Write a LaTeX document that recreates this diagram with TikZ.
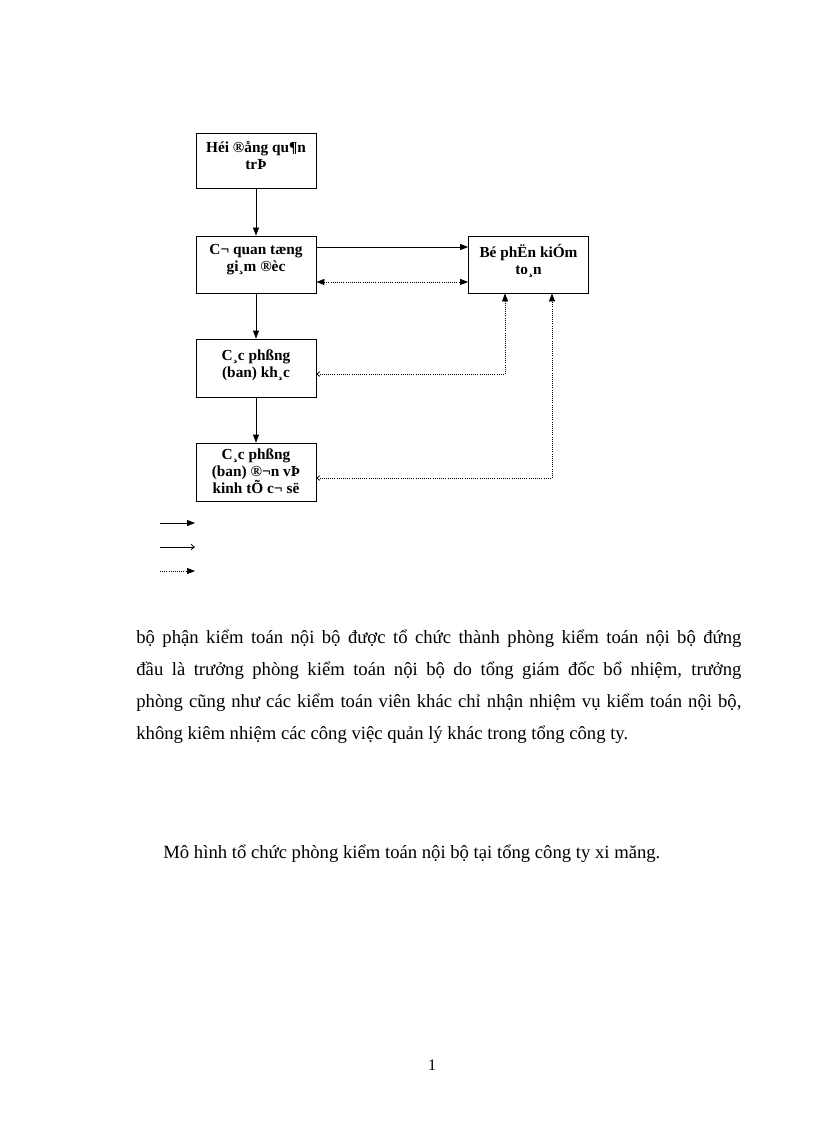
\documentclass[tikz,border=0pt]{standalone}
\usepackage{fontspec}
\setmainfont{Liberation Serif}
\usetikzlibrary{arrows.meta,positioning}
\newcommand\boxfont{\fontsize{11.5}{12.7}\selectfont\bfseries}

\begin{document}
\begin{tikzpicture}[x=0.75pt,y=-0.75pt,>={Triangle[length=6pt,width=4.5pt]},
                    sbarb/.tip={Straight Barb[length=2pt,width=3.5pt]},
                    line width=0.6pt]
  \tikzstyle{box}=[draw=black,minimum width=90pt,minimum height=42.75pt,inner sep=0pt]
  \tikzstyle{boxtext}=[font=\boxfont,align=center,inner sep=0pt,anchor=north]
  \tikzstyle{dotline}=[densely dotted]
  \tikzstyle{bodytext}=[font=\fontsize{14}{16}\selectfont,inner sep=0pt,anchor=base west]

  \useasboundingbox (0,0) rectangle (816,1123);

  % boxes of the chart
  \node[box,minimum height=41.25pt] (hdqt) at (256,160.5) {};
  \node[box]                        (cqtg) at (256,264.5) {};
  \node[box]                        (ksnb) at (528.5,264.5) {};
  \node[box,minimum height=43.5pt]  (cpk)  at (256,368)   {};
  \node[box,minimum height=43.5pt]  (cpdv) at (256,472)   {};

  \node[boxtext] (hdqt-t) at ([yshift=-6.5pt]hdqt.north) {Héi ®ång qu¶n\\trÞ};
  \node[boxtext] (cqtg-t) at ([yshift=-6.5pt]cqtg.north) {C¬ quan tæng\\gi¸m ®èc};
  \node[boxtext] (ksnb-t) at ([yshift=-6.5pt]ksnb.north) {Bé phËn kiÓm\\to¸n};
  \node[boxtext] (cpk-t)  at ([yshift=-8pt]cpk.north)    {C¸c phßng\\(ban) kh¸c};
  \node[boxtext] (cpdv-t) at ([yshift=-4.5pt]cpdv.north) {C¸c phßng\\(ban) ®¬n vÞ\\kinh tÕ c¬ së};

  % connectors
  \draw[->] (hdqt) -- (cqtg);
  \draw[->] (cqtg) -- (cpk);
  \draw[->] (cpk) -- (cpdv);
  \draw[->] ([yshift=13.1pt]cqtg.east) -- ([yshift=13.1pt]ksnb.west);
  \draw[dotline,<->] ([yshift=-13.1pt]cqtg.east) -- ([yshift=-13.1pt]ksnb.west);
  \draw[dotline,sbarb->] ([yshift=-4.5pt]cpk.east) -| ([xshift=-17.6pt]ksnb.south);
  \draw[dotline,sbarb->] ([yshift=-4.5pt]cpdv.east) -| ([xshift=17.6pt]ksnb.south);

  % legend
  \coordinate (lg1a) at (160,523);
  \coordinate (lg1b) at (195,523);
  \coordinate (lg2a) at (160,547);
  \coordinate (lg2b) at (195,547);
  \coordinate (lg3a) at (160,571);
  \coordinate (lg3b) at (195,571);
  \draw[->] (lg1a) -- (lg1b);
  \draw[-{Straight Barb[length=2.5pt,width=4pt]}] (lg2a) -- (lg2b);
  \draw[dotline,->] (lg3a) -- (lg3b);

  % text below the chart
  \node[bodytext] (par1) at (136,643) {\makebox[453.75pt][s]{bộ phận kiểm toán nội bộ được tổ chức thành phòng kiểm toán nội bộ đứng}};
  \node[bodytext] (par2) at (136,675) {\makebox[453.75pt][s]{đầu là trưởng phòng kiểm toán nội bộ do tổng giám đốc bổ nhiệm, trưởng}};
  \node[bodytext] (par3) at (136,707) {\makebox[453.75pt][s]{phòng cũng như các kiểm toán viên khác chỉ nhận nhiệm vụ kiểm toán nội bộ,}};
  \node[bodytext] (par4) at (136,739) {không kiêm nhiệm các công việc quản lý khác trong tổng công ty.};

  \node[bodytext] (caption) at (163,858) {Mô hình tổ chức phòng kiểm toán nội bộ tại tổng công ty xi măng.};
  \node[font=\fontsize{12}{14}\selectfont,inner sep=0pt,anchor=base] (pageno) at (432,1070) {1};
\end{tikzpicture}
\end{document}
